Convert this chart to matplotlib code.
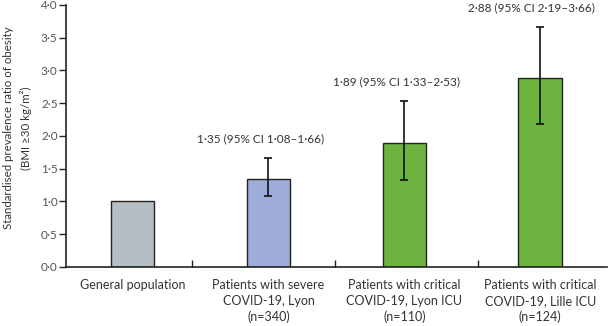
import matplotlib.pyplot as plt
from matplotlib.ticker import FixedLocator, FuncFormatter

plt.rcParams['font.family'] = ['Lato', 'DejaVu Sans']

# standardised prevalence ratios of obesity, with 95% CI
groups = ['General population',
          'Patients with severe\nCOVID-19, Lyon\n(n=340)',
          'Patients with critical\nCOVID-19, Lyon ICU\n(n=110)',
          'Patients with critical\nCOVID-19, Lille ICU\n(n=124)']
ratio = [1.00, 1.35, 1.89, 2.88]
ci_low = [None, 1.08, 1.33, 2.19]
ci_high = [None, 1.66, 2.53, 3.66]
colours = ['#b5bec2', '#9dacd8', '#6cb43f', '#6cb43f']
boundaries = [0.44, 1.49, 2.54]

def dot(v):
    return ('%.2f' % v).replace('.', '\u00b7')

fig = plt.figure(figsize=(6.09, 3.26), dpi=100)
ax = fig.add_axes([0.1084, 0.181, 0.888, 0.8037])

x = range(len(ratio))
ax.bar(x, ratio, width=0.32, color=colours, edgecolor='#222222', linewidth=1.0, zorder=2)

for i in x:
    if ci_low[i] is None:
        continue
    ax.errorbar(i, ratio[i], yerr=[[ratio[i] - ci_low[i]], [ci_high[i] - ratio[i]]],
                fmt='none', ecolor='#111111', elinewidth=1.2, capsize=2.8, capthick=1.2, zorder=3)
    ax.annotate('%s (95%% CI %s\u2013%s)' % (dot(ratio[i]), dot(ci_low[i]), dot(ci_high[i])),
                xy=(i, ci_high[i]), xytext=(-6, 14), textcoords='offset points',
                ha='center', va='center', fontsize=8.5, color='#333333')

ax.set_xlim(-0.49, 3.49)
ax.set_ylim(0, 4.0)
ax.set_yticks([0, 0.5, 1.0, 1.5, 2.0, 2.5, 3.0, 3.5, 4.0])
ax.yaxis.set_major_formatter(FuncFormatter(lambda v, p: ('%.1f' % v).replace('.', '\u00b7')))
ax.set_xticks(list(x))
ax.set_xticklabels(groups, fontsize=9, color='#333333', linespacing=1.32)
ax.tick_params(axis='x', which='major', length=0, pad=9)
ax.xaxis.set_minor_locator(FixedLocator(boundaries))
ax.tick_params(axis='x', which='minor', length=5, width=1.0, color='#222222', direction='in')
ax.tick_params(axis='y', length=5, width=1.0, color='#222222', labelsize=8.5, labelcolor='#555555', pad=1)

for side in ['top', 'right']:
    ax.spines[side].set_visible(False)
for side in ['left', 'bottom']:
    ax.spines[side].set_linewidth(1.2)
    ax.spines[side].set_color('#222222')

ax.set_ylabel('Standardised prevalence ratio of obesity\n(BMI \u226530 kg/m\u00b2)',
              fontsize=8.3, color='#333333', linespacing=1.6)
ax.yaxis.set_label_coords(-0.063, 0.53)

fig.savefig('out.png', dpi=100)
